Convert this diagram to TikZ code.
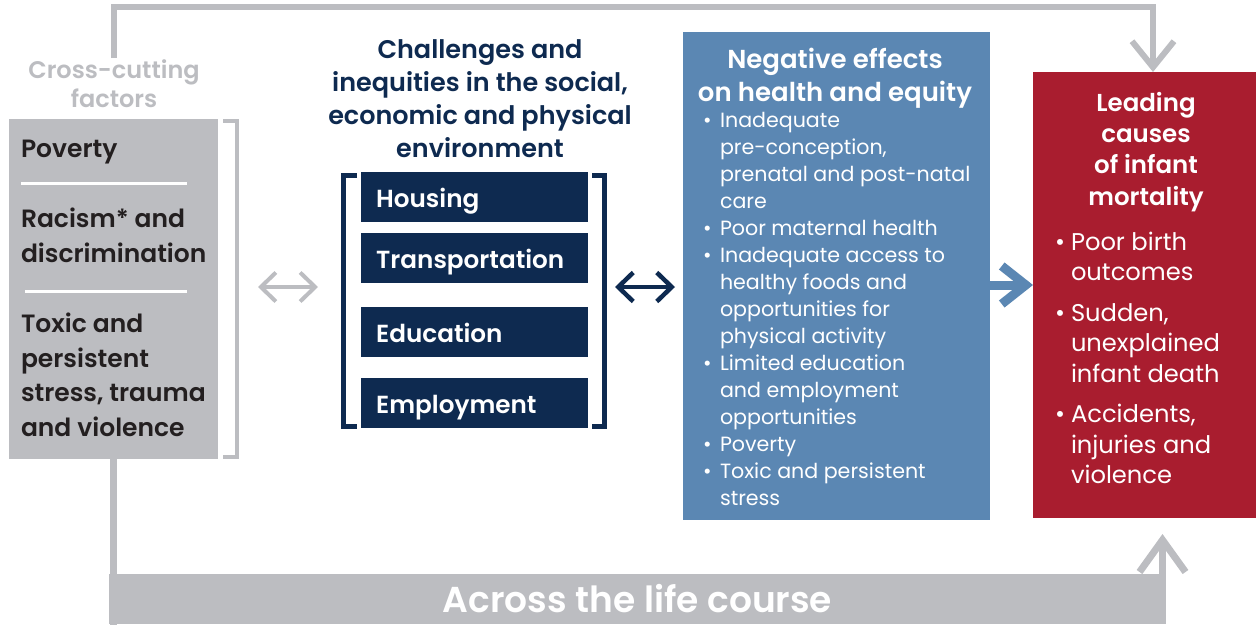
\documentclass[tikz,border=0pt]{standalone}
\usepackage{fontspec}
\setmainfont{Poppins}[BoldFont={Poppins SemiBold}]
\usetikzlibrary{arrows.meta,calc}
\definecolor{cgray}{RGB}{188,189,193}
\definecolor{cblack}{RGB}{35,31,32}
\definecolor{cnavy}{RGB}{14,42,80}
\definecolor{cblue}{RGB}{91,135,179}
\definecolor{cred}{RGB}{169,29,47}
\newcommand\myfs[2]{\fontsize{#1}{#2}\selectfont}
\newcommand\bul{\makebox[17pt][l]{\textbullet}}
\newcommand\ind{\hspace*{17pt}}
\newcommand\rbul{\makebox[16pt][l]{\textbullet}}
\newcommand\rind{\hspace*{16pt}}
\tikzset{
  txt/.style={inner sep=0pt, outer sep=0pt},
  boxtxt/.style={txt, text=cblack, font=\bfseries\myfs{25}{34.5}, align=left, anchor=north west},
  navybox/.style={fill=cnavy, text=white, font=\bfseries\myfs{24.7}{30}, minimum width=227pt, minimum height=50pt,
     text width=197pt, inner xsep=15pt, inner ysep=0pt, align=left, text height=20pt, text depth=0pt, anchor=north west},
  panel/.style={inner sep=0pt, outer sep=0pt, anchor=north west},
  gline/.style={draw=cgray, line width=6pt},
  gtip/.tip={Straight Barb[length=26pt, width=42pt]},
  utip/.tip={Straight Barb[length=32pt, width=46pt]},
  dtip/.tip={Straight Barb[length=15pt, width=29pt]},
  btip/.tip={Straight Barb[length=24pt, width=38pt]},
}
\begin{document}
\begin{tikzpicture}[x=1pt,y=-1pt]
\useasboundingbox (0,0) rectangle (1256,624);

% left cross-cutting box
\node[panel, fill=cgray, minimum width=209pt, minimum height=340pt] (box) at (9,119) {};
\node[txt, text=cgray, font=\bfseries\myfs{24}{29}, align=center, anchor=north] (cc) at (114,60) {Cross-cutting\\factors};
\node[boxtxt] (pov) at (21,140) {Poverty};
\node[boxtxt] (rac) at (21,208) {Racism* and\\discrimination};
\node[boxtxt] (tox) at (21,313) {Toxic and\\persistent\\stress, trauma\\and violence};
\draw[white, line width=3pt] (21,183) -- (187,183);
\draw[white, line width=3pt] (25,291) -- (187,291);
\draw[cgray, line width=4pt] (223,121) -- (237,121) -- (237,457) -- (223,457);

% heading
\node[txt, text=cnavy, font=\bfseries\myfs{25.5}{33}, align=center, anchor=north] (head) at (480,40)
  {Challenges and\\inequities in the social,\\economic and physical\\environment};

% navy boxes
\node[navybox] (housing) at (361,172) {Housing};
\node[navybox] (transp) at (361,233) {Transportation};
\node[navybox] (educ) at (361,307) {Education};
\node[navybox] (employ) at (361,378) {Employment};
\draw[cnavy, line width=5pt] (357,175) -- (343,175) -- (343,426) -- (357,426);
\draw[cnavy, line width=5pt] (592,175) -- (604.5,175) -- (604.5,426) -- (592,426);

% blue panel
\node[panel, fill=cblue, minimum width=307pt, minimum height=488pt] (blue) at (683,32) {};
\node[txt, text=white, font=\bfseries\myfs{26}{33}, align=center, anchor=north] (btitle) at (835,48)
  {Negative effects\\on health and equity};
\node[txt, text=white, font=\myfs{20.6}{27}, align=left, anchor=north west] (blist) at (703,112)
  {\bul Inadequate\\\ind pre-conception,\\\ind prenatal and post-natal\\\ind care\\
   \bul Poor maternal health\\\bul Inadequate access to\\\ind healthy foods and\\\ind opportunities for\\\ind physical activity\\
   \bul Limited education\\\ind and employment\\\ind opportunities\\\bul Poverty\\\bul Toxic and persistent\\\ind stress};

% red panel
\node[panel, fill=cred, minimum width=223pt, minimum height=446pt] (red) at (1033,72) {};
\node[txt, text=white, font=\bfseries\myfs{24.5}{31.3}, align=center, anchor=north] (rtitle) at (1146,92)
  {Leading\\causes\\of infant\\mortality};
\node[txt, text=white, font=\myfs{24.2}{30.5}, align=left, anchor=north west] (rlist) at (1055,232)
  {\rbul Poor birth\\\rind outcomes\\[10pt]\rbul Sudden,\\\rind unexplained\\\rind infant death\\[10pt]\rbul Accidents,\\\rind injuries and\\\rind violence};

% bottom band
\node[panel, fill=cgray, minimum width=1057pt, minimum height=50pt, text=white,
      font=\bfseries\myfs{36}{36}, text height=26pt, text depth=0pt] (band) at (109,574) {Across the life course};

% connectors
\draw[gline, -{gtip}] ([yshift=2pt]cc.north) -- ++(0,-51) -| ([xshift=8.5pt]red.north);
\draw[draw=cgray, line width=7pt] (box.south) -- ++(0,166);
\draw[draw=cgray, line width=7pt, -{utip}] ([xshift=-3.5pt,yshift=-1pt]band.north east) -- ([xshift=18pt,yshift=-16pt]red.south);
\draw[draw=cgray, line width=4pt, {dtip}-{dtip}] ([xshift=40pt,yshift=2pt]box.east) -- ([xshift=100pt,yshift=2pt]box.east);
\draw[draw=cnavy, line width=4.5pt, {dtip}-{dtip}] ([xshift=-68pt,yshift=-11pt]blue.west) -- ([xshift=-8pt,yshift=-11pt]blue.west);
\draw[draw=cblue, line width=9pt, -{btip}] ([yshift=-9pt]blue.east) -- ([yshift=-9pt]blue.east -| red.west);
\end{tikzpicture}
\end{document}
